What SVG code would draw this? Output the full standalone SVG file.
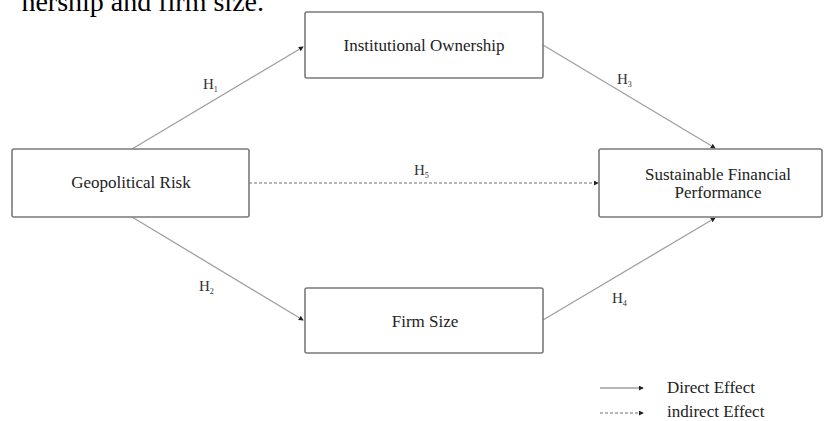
<svg xmlns="http://www.w3.org/2000/svg" width="827" height="421" viewBox="0 0 827 421">
<style>
.box{fill:#fff;stroke:#7a7a7a;stroke-width:1.6}
.lbl{font-family:"Liberation Serif",serif;font-size:17px;fill:#222;text-anchor:middle}
.h{font-family:"Liberation Serif",serif;font-size:15px;fill:#333}
.sub{font-size:8px}
.ln{stroke:#a0a0a0;stroke-width:1.3;fill:none}
.dash{stroke-dasharray:3 2}
.leg{font-family:"Liberation Serif",serif;font-size:17px;fill:#222}
</style>
<defs>
<marker id="ah" viewBox="0 0 6 6" refX="5" refY="3" markerWidth="5" markerHeight="5" markerUnits="userSpaceOnUse" orient="auto">
<path d="M0,0 L6,3 L0,6 z" fill="#222"/>
</marker>
</defs>
<rect width="827" height="421" fill="#fff"/>
<text x="264" y="11" font-family="Liberation Serif, serif" font-size="28" fill="#000" text-anchor="end">nership and firm size.</text>
<g id="connectors">
<line class="ln" x1="132" y1="149" x2="303" y2="47" marker-end="url(#ah)"/>
<line class="ln" x1="543" y1="45" x2="715" y2="148" marker-end="url(#ah)"/>
<line class="ln" x1="132" y1="217" x2="303" y2="320" marker-end="url(#ah)"/>
<line class="ln" x1="543" y1="320" x2="715" y2="218" marker-end="url(#ah)"/>
<line class="ln dash" x1="249" y1="183" x2="598" y2="183" marker-end="url(#ah)"/>
<text class="h" x="203" y="89">H<tspan class="sub" dy="3">1</tspan></text>
<text class="h" x="617" y="84">H<tspan class="sub" dy="3">3</tspan></text>
<text class="h" x="414" y="175">H<tspan class="sub" dy="3">5</tspan></text>
<text class="h" x="199" y="291">H<tspan class="sub" dy="3">2</tspan></text>
<text class="h" x="612" y="303">H<tspan class="sub" dy="3">4</tspan></text>
</g>
<g id="institutional">
<rect class="box" x="305" y="12" width="238" height="66" rx="2"/>
<text class="lbl" x="424" y="51">Institutional Ownership</text>
</g>
<g id="geopolitical">
<rect class="box" x="12" y="149" width="237" height="68" rx="2"/>
<text class="lbl" x="131" y="188">Geopolitical Risk</text>
</g>
<g id="sustainable">
<rect class="box" x="599" y="149" width="223" height="68" rx="2"/>
<text class="lbl" x="718" y="180">Sustainable Financial</text>
<text class="lbl" x="718" y="198">Performance</text>
</g>
<g id="firmsize">
<rect class="box" x="305" y="288" width="238" height="65" rx="2"/>
<text class="lbl" x="425" y="327">Firm Size</text>
</g>
<g id="legend">
<line class="ln" x1="600" y1="388" x2="643" y2="388" marker-end="url(#ah)"/>
<text class="leg" x="667" y="393">Direct Effect</text>
<line class="ln dash" x1="600" y1="413" x2="643" y2="413" marker-end="url(#ah)"/>
<text class="leg" x="667" y="417">indirect Effect</text>
</g>
</svg>
